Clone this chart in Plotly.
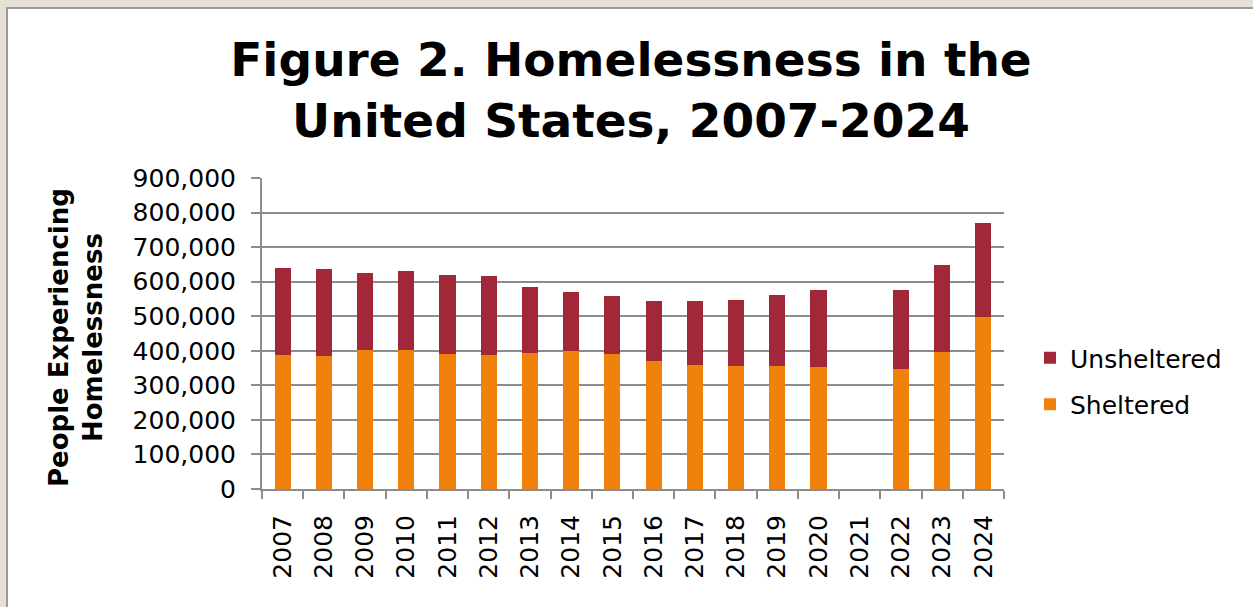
import plotly.graph_objects as go

# Point-in-time counts of people experiencing homelessness (2021 count not shown)
years = ["2007", "2008", "2009", "2010", "2011", "2012", "2013", "2014", "2015",
         "2016", "2017", "2018", "2019", "2020", "2021", "2022", "2023", "2024"]
sheltered = [389000, 385700, 401000, 401000, 390600, 388600, 393500, 399300, 389500,
             371200, 359700, 356800, 354800, 353900, None, 348100, 395300, 496500]
total = [641000, 635400, 623900, 630800, 618000, 616300, 583300, 570000, 558400,
         542800, 544800, 546800, 561300, 575800, None, 576700, 649000, 770500]
unsheltered = [None if t is None else t - s for t, s in zip(total, sheltered)]

y_ticks = [0, 100000, 200000, 300000, 400000, 500000, 600000, 700000, 800000, 900000]
y_tick_text = ["0", "100,000", "200,000", "300,000", "400,000", "500,000",
               "600,000", "700,000", "800,000", "900,000"]

W, H = 1253, 607
ML, MR, MT, MB = 262, 249, 178, 118
PW, PH = W - ML - MR, H - MT - MB


def px_x(px):
    return (px - ML) / PW


def px_y(py):
    return (H - MB - py) / PH


fig = go.Figure()
fig.add_bar(x=years, y=sheltered, name="Sheltered", marker_color="#F0820C",
            legendgroup="a", legendrank=2, marker_line_width=0)
fig.add_bar(x=years, y=unsheltered, name="Unsheltered", marker_color="#A12838",
            legendgroup="b", legendrank=1, marker_line_width=0)

grid = "#8C8C8C"
fig.update_layout(
    width=W, height=H,
    margin=dict(l=ML, r=MR, t=MT, b=MB),
    barmode="stack", bargap=0.61,
    paper_bgcolor="#E7E0D6", plot_bgcolor="white",
    font=dict(family="DejaVu Sans", color="black", size=25),
    title=dict(text="<b>Figure 2. Homelessness in the<br>United States, 2007-2024</b>",
               x=631 / W, xanchor="center", xref="container",
               y=1 - 76 / H, yanchor="top", yref="container",
               font=dict(family="DejaVu Sans", size=47, color="black")),
    legend=dict(x=px_x(1030), xanchor="left", y=px_y(335), yanchor="top",
                traceorder="grouped", tracegroupgap=11,
                font=dict(size=25), bgcolor="rgba(0,0,0,0)"),
    showlegend=True,
)
fig.update_xaxes(type="category", showline=True, linecolor=grid, linewidth=2,
                 ticks="outside", ticklen=8, tickcolor=grid, tickwidth=2,
                 tickson="boundaries", tickangle=-90, showgrid=False,
                 ticklabelstandoff=14, tickfont=dict(size=25))
fig.update_yaxes(range=[0, 900000], tickvals=y_ticks, ticktext=y_tick_text,
                 showline=True, linecolor=grid, linewidth=2,
                 ticks="outside", ticklen=9, tickcolor=grid, tickwidth=2,
                 showgrid=True, gridcolor=grid, gridwidth=2, zeroline=False,
                 ticklabelstandoff=10, tickfont=dict(size=25))

# white chart area with a grey frame
fig.add_shape(type="rect", xref="paper", yref="paper", layer="below",
              x0=px_x(7), x1=px_x(1270), y0=px_y(8), y1=px_y(640),
              fillcolor="white", line=dict(color="#9A9A9A", width=2))

fig.add_annotation(text="<b>People Experiencing<br>Homelessness</b>",
                   xref="paper", yref="paper", x=px_x(76), y=px_y(338),
                   xanchor="center", yanchor="middle", textangle=-90,
                   showarrow=False, font=dict(size=26, color="black"))

fig.write_html("out.html")
